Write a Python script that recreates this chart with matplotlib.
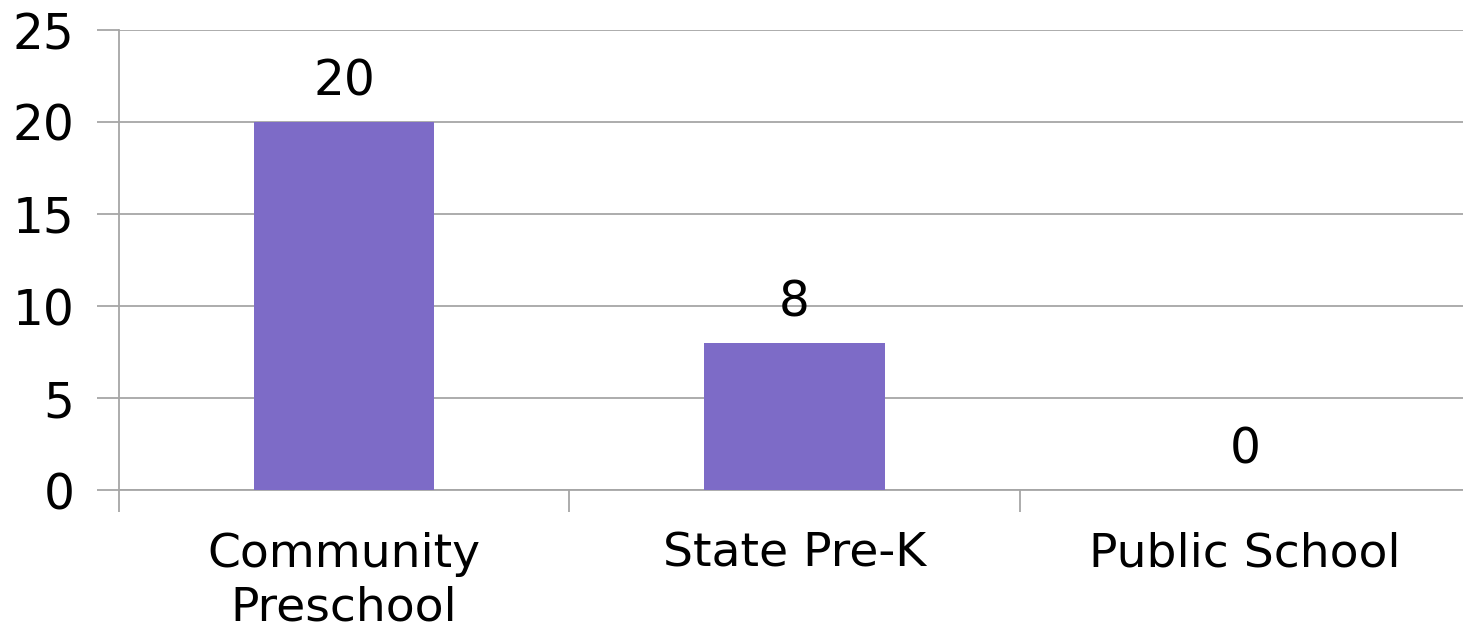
import matplotlib.pyplot as plt

categories = ['Community\nPreschool', 'State Pre-K', 'Public School']
values = [20, 8, 0]
yticks = [0, 5, 10, 15, 20, 25]

W, H = 1463, 633
fig = plt.figure(figsize=(W / 100, H / 100), dpi=100)
# axes box in pixels: left spine x=119, y=0 at row 490, y=25 at row 30
ax = fig.add_axes([119 / W, (H - 490) / H, 1351 / W, 460 / H])

x = range(len(categories))
ax.bar(x, values, width=0.4, color='#7D6BC7', zorder=3)

for xi, v in zip(x, values):
    ax.text(xi, v + 0.9, str(v), ha='center', va='bottom', fontsize=35, color='black')

ax.set_xlim(-0.5, 2.5)
ax.set_ylim(0, 25)
ax.set_yticks(yticks)
ax.set_yticklabels([str(t) for t in yticks], fontsize=35)
ax.yaxis.grid(True, color='#A6A6A6', linewidth=1.3, zorder=0)

# category boundary ticks below the axis
ax.set_xticks([-0.5, 0.5, 1.5, 2.5])
ax.set_xticklabels([])
ax.set_xticks(list(x), minor=True)
ax.set_xticklabels(categories, minor=True, fontsize=34, linespacing=1.25)
ax.tick_params(axis='x', which='minor', length=0, pad=30)
ax.tick_params(axis='x', which='major', length=16, color='#A6A6A6', width=1.3)
ax.tick_params(axis='y', length=16, color='#A6A6A6', width=1.3, pad=16)

for side in ['top', 'right']:
    ax.spines[side].set_visible(False)
for side in ['left', 'bottom']:
    ax.spines[side].set_color('#A6A6A6')
    ax.spines[side].set_linewidth(1.3)

fig.savefig('out.png', dpi=100)
